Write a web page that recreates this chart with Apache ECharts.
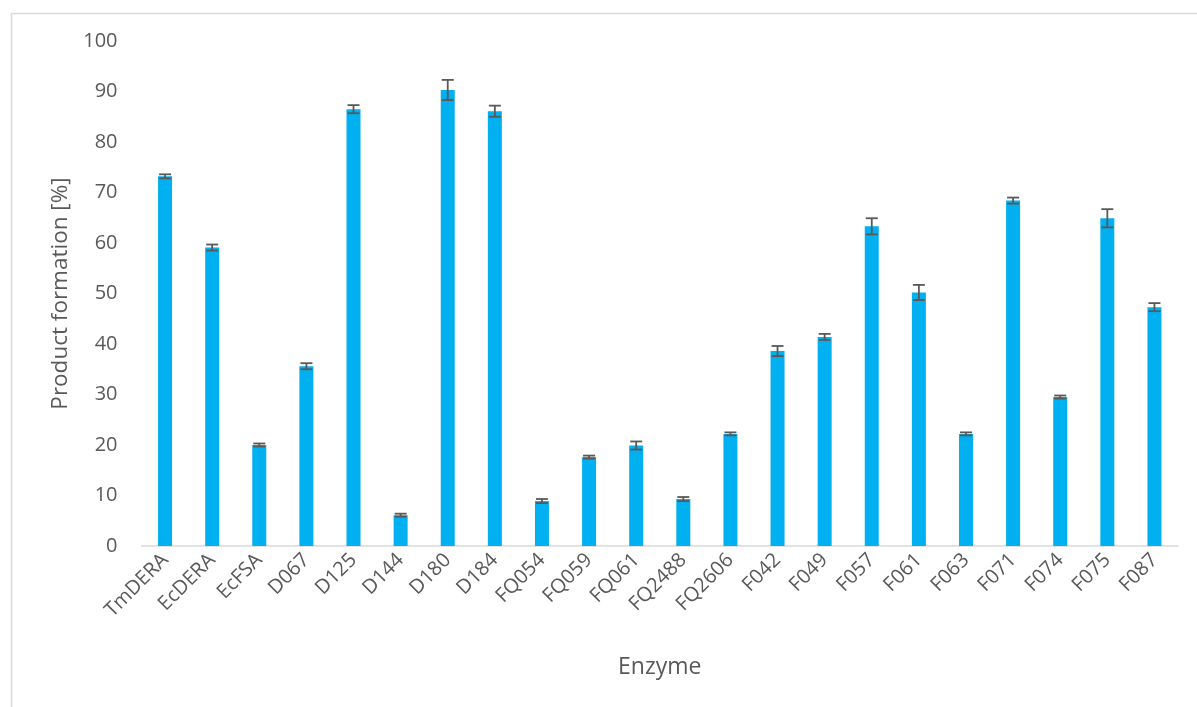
<!DOCTYPE html>
<html>
<head>
<meta charset="utf-8">
<script src="https://cdn.jsdelivr.net/npm/echarts@6/dist/echarts.min.js"></script>
<style>
  html, body { margin: 0; padding: 0; background: #ffffff; }
  #chart { width: 1197px; height: 707px; }
</style>
</head>
<body>
<div id="chart"></div>
<script>
// Enzymes tested
const enzymes = ['TmDERA', 'EcDERA', 'EcFSA', 'D067', 'D125', 'D144', 'D180', 'D184',
  'FQ054', 'FQ059', 'FQ061', 'FQ2488', 'FQ2606', 'F042', 'F049', 'F057', 'F061',
  'F063', 'F071', 'F074', 'F075', 'F087'];

// Mean product formation [%]
const productFormation = [73.2, 59.1, 20.0, 35.6, 86.5, 6.1, 90.3, 86.1,
  8.9, 17.6, 19.9, 9.3, 22.2, 38.6, 41.4, 63.3, 50.2,
  22.2, 68.4, 29.5, 64.9, 47.3];

// Standard deviation
const stdDev = [0.4, 0.6, 0.3, 0.6, 0.8, 0.3, 2.0, 1.1,
  0.4, 0.3, 0.8, 0.4, 0.3, 1.0, 0.6, 1.6, 1.5,
  0.3, 0.6, 0.3, 1.8, 0.8];

const yTicks = [0, 10, 20, 30, 40, 50, 60, 70, 80, 90, 100];

const errorData = enzymes.map((e, i) => [i, productFormation[i] - stdDev[i], productFormation[i] + stdDev[i]]);

const chart = echarts.init(document.getElementById('chart'));
const fontFamily = '"Open Sans", "Noto Sans", sans-serif';

chart.setOption({
  animation: false,
  backgroundColor: '#ffffff',
  graphic: [{
    type: 'rect',
    left: 9, top: 11,
    shape: { width: 1300, height: 800 },
    style: { fill: 'none', stroke: '#d9d9d9', lineWidth: 1.5 },
    silent: true
  }],
  grid: { left: 141.5, right: 19, top: 41, bottom: 161 },
  xAxis: {
    type: 'category',
    data: enzymes,
    name: 'Enzyme',
    nameLocation: 'middle',
    nameGap: 110,
    nameTextStyle: { fontSize: 23, color: '#595959', fontFamily },
    axisLine: { lineStyle: { color: '#d9d9d9', width: 1.5 } },
    axisTick: { show: false },
    axisLabel: { rotate: 45, fontSize: 20, color: '#595959', fontFamily, margin: 11, interval: 0 }
  },
  yAxis: {
    type: 'value',
    min: yTicks[0],
    max: yTicks[yTicks.length - 1],
    interval: 10,
    name: 'Product formation [%]',
    nameLocation: 'middle',
    nameGap: 68,
    nameTextStyle: { fontSize: 22.5, color: '#595959', fontFamily },
    axisLine: { show: false },
    axisTick: { show: false },
    splitLine: { show: false },
    axisLabel: { fontSize: 20, color: '#595959', fontFamily, margin: 24 }
  },
  series: [{
    type: 'bar',
    data: productFormation,
    barWidth: 14,
    itemStyle: { color: '#00b0f0' }
  }, {
    type: 'custom',
    data: errorData,
    z: 10,
    renderItem: function (params, api) {
      const x = api.value(0);
      const lo = api.coord([x, api.value(1)]);
      const hi = api.coord([x, api.value(2)]);
      const half = 6;
      const style = { stroke: '#595959', lineWidth: 1.8 };
      return {
        type: 'group',
        children: [
          { type: 'line', shape: { x1: lo[0], y1: lo[1], x2: hi[0], y2: hi[1] }, style },
          { type: 'line', shape: { x1: lo[0] - half, y1: lo[1], x2: lo[0] + half, y2: lo[1] }, style },
          { type: 'line', shape: { x1: hi[0] - half, y1: hi[1], x2: hi[0] + half, y2: hi[1] }, style }
        ]
      };
    }
  }]
});
</script>
</body>
</html>
